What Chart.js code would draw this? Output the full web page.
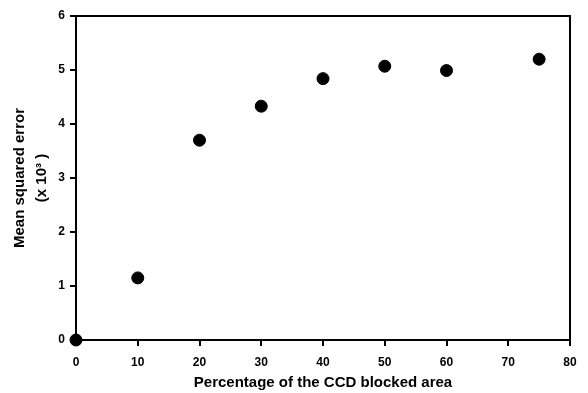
<!DOCTYPE html>
<html lang="en">
  <head>
    <meta charset="UTF-8" />
    <title>Mean squared error vs blocked area</title>
    <script src="https://cdn.jsdelivr.net/npm/chart.js"></script>
    <style>
      html, body { margin: 0; padding: 0; background: #fff; }
      #wrap { width: 588px; height: 393px; }
    </style>
  </head>
  <body>
    <div id="wrap"><canvas id="myChart" width="588" height="393"></canvas></div>

    <script>
      // values
      const blocked = [0, 10, 20, 30, 40, 50, 60, 75];
      const mse = [0, 1.15, 3.7, 4.33, 4.84, 5.07, 4.99, 5.2];
      const xTicks = [0, 10, 20, 30, 40, 50, 60, 70, 80];
      const yTicks = [0, 1, 2, 3, 4, 5, 6];

      const font = 'Arial, "Liberation Sans", sans-serif';
      const TICK = 6;

      // box round the plot area plus the outward tick marks
      const frame = {
        id: 'frame',
        afterDraw(chart) {
          const { ctx, chartArea: a, scales } = chart;
          ctx.save();
          ctx.strokeStyle = '#000';
          ctx.lineWidth = 2;
          ctx.beginPath();
          ctx.moveTo(a.left, a.top);
          ctx.lineTo(a.right, a.top);
          ctx.lineTo(a.right, a.bottom);
          xTicks.forEach(v => {
            const px = Math.round(scales.x.getPixelForValue(v));
            ctx.moveTo(px, a.bottom);
            ctx.lineTo(px, a.bottom + TICK);
          });
          yTicks.forEach(v => {
            const py = Math.round(scales.y.getPixelForValue(v));
            ctx.moveTo(a.left, py);
            ctx.lineTo(a.left - TICK, py);
          });
          ctx.stroke();
          ctx.restore();
        }
      };

      const ctx = document.getElementById('myChart').getContext('2d');
      new Chart(ctx, {
        type: 'scatter',
        data: {
          datasets: [{
            data: blocked.map((x, i) => ({ x: x, y: mse[i] })),
            backgroundColor: '#000',
            borderColor: '#000',
            pointRadius: 6,
            pointHoverRadius: 6,
            clip: false
          }]
        },
        plugins: [frame],
        options: {
          responsive: false,
          animation: false,
          layout: { padding: { top: 16, right: 18, left: 0, bottom: 0 } },
          plugins: { legend: { display: false }, tooltip: { enabled: false } },
          scales: {
            x: {
              type: 'linear',
              min: 0, max: 80,
              afterBuildTicks: s => { s.ticks = xTicks.map(v => ({ value: v })); },
              afterFit: s => { s.height = 53; },
              border: { display: true, color: '#000', width: 2 },
              grid: { drawOnChartArea: false, drawTicks: true, tickLength: TICK, color: '#000', lineWidth: 2 },
              ticks: { color: '#000', padding: 9, maxRotation: 0, font: { family: font, size: 12, weight: 'bold' } },
              title: {
                display: true,
                text: 'Percentage of the CCD blocked area',
                color: '#000',
                padding: { top: 0, bottom: 1 },
                font: { family: font, size: 15, weight: 'bold' }
              }
            },
            y: {
              type: 'linear',
              min: 0, max: 6,
              afterBuildTicks: s => { s.ticks = yTicks.map(v => ({ value: v })); },
              afterFit: s => { s.width = 76; },
              border: { display: true, color: '#000', width: 2 },
              grid: { drawOnChartArea: false, drawTicks: true, tickLength: TICK, color: '#000', lineWidth: 2 },
              ticks: { color: '#000', padding: 5, font: { family: font, size: 12, weight: 'bold' } },
              title: {
                display: true,
                text: ['Mean squared error', '(x 10\u00B3 )'],
                color: '#000',
                padding: { top: 9, bottom: 0 },
                font: { family: font, size: 15, weight: 'bold', lineHeight: 1.47 }
              }
            }
          }
        }
      });
    </script>
  </body>
</html>
